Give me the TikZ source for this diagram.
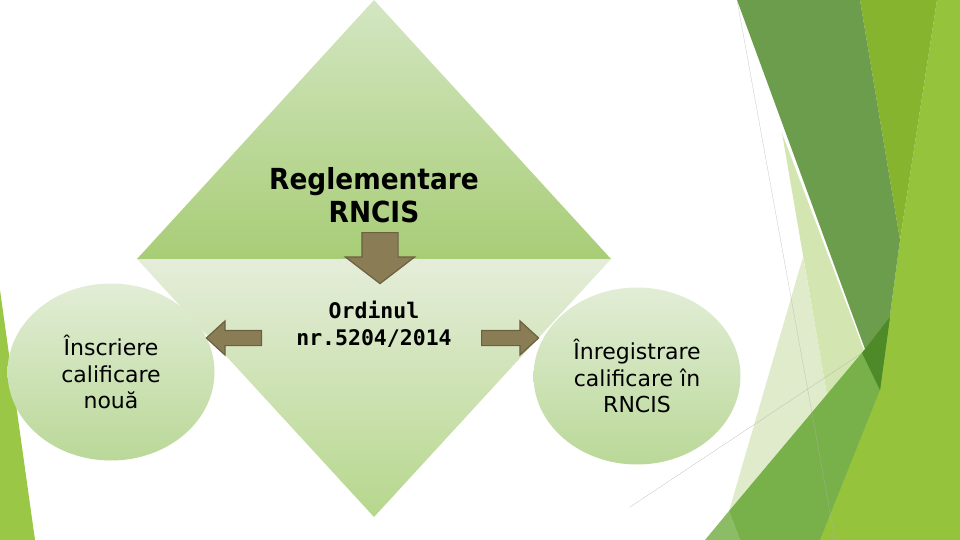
\documentclass[tikz,border=0pt]{standalone}
\usepackage{fontspec}
\newfontfamily\tahoma{DejaVu Sans}
\newfontfamily\tahomabold[FakeStretch=0.91]{DejaVu Sans Bold}
\newfontfamily\tahomamono{DejaVu Sans Mono}
\usetikzlibrary{shapes.geometric,shapes.arrows}

\definecolor{triTop}{HTML}{D3E6C2}
\definecolor{triBot}{HTML}{A8CD76}
\definecolor{diaTop}{HTML}{E5EDDA}
\definecolor{diaBot}{HTML}{B6D78C}
\definecolor{ellTop}{HTML}{E2EDD6}
\definecolor{ellBot}{HTML}{BAD898}
\definecolor{arrFill}{HTML}{8A7D55}
\definecolor{arrLine}{HTML}{6B6141}
\definecolor{leafDark}{HTML}{6C9D4C}
\definecolor{leafDeep}{HTML}{4E8A28}
\definecolor{leafMid}{HTML}{78B04A}
\definecolor{leafLime}{HTML}{95C43C}
\definecolor{leafOlive}{HTML}{86B42F}
\definecolor{leafPale}{HTML}{E0EBCB}
\definecolor{leafPaleB}{HTML}{D3E5B0}

\begin{document}
\begin{tikzpicture}[x=1pt,y=-1pt]
\useasboundingbox (0,0) rectangle (960,540);
% backdrop leaves
\fill[leafPale] (803,257) -- (827,395) -- (729,511) -- cycle;
\fill[leafPaleB] (782,133) -- (827,395) -- (865,353) -- cycle;
\fill[leafMid!85!white] (705,540) -- (729,511) -- (740,540) -- cycle;
\fill[leafMid] (740,540) -- (729,511) -- (960,236) -- (960,540) -- cycle;
\fill[leafLime] (937,0) -- (960,0) -- (960,540) -- (820,540) -- (880,390) -- (900,240) -- cycle;
\fill[leafOlive] (860,0) -- (937,0) -- (900,240) -- cycle;
\fill[leafDark] (737,0) -- (860,0) -- (900,240) -- (880,390) -- cycle;
\fill[leafDeep] (862,353) -- (890,317) -- (880,390) -- cycle;
\fill[leafLime!95!white] (0,290) -- (35,540) -- (0,540) -- cycle;
\draw[black!30,very thin] (737,0) -- (835,540);
\draw[black!30,very thin] (630,507) -- (862,353);

% diamond
\coordinate (top) at (374,0);
\coordinate (west) at (137,259);
\coordinate (east) at (611,259);
\coordinate (bottom) at (374,517);
\shade[top color=triTop,bottom color=triBot] (west) -- (top) -- (east) -- cycle;
\shade[top color=diaTop,bottom color=diaBot] (west) -- (east) -- (bottom) -- cycle;

\begin{scope}[every node/.style={ellipse,top color=ellTop,bottom color=ellBot,
    minimum width=207,minimum height=177,align=center,
    font=\tahoma\fontsize{22}{26.5}\selectfont}]
    \node (nou) at (111,372) {Înscriere\\calificare\\nouă};
    \node (inreg) at (637,376) {Înregistrare\\calificare în\\RNCIS};
\end{scope}

\node[align=center,font=\tahomabold\fontsize{29}{33}\selectfont]
    (regl) at (374,195) {Reglementare\\RNCIS};
\node[align=center,font=\tahomamono\bfseries\fontsize{21.5}{27}\selectfont]
    (ord) at (374,324) {Ordinul\\nr.5204/2014};

\begin{scope}[every node/.style={single arrow,draw=arrLine,fill=arrFill,
    line width=1.2pt,single arrow head indent=0pt,anchor=tail}]
    \node[shape border rotate=270,minimum height=51,inner sep=17.5,
        single arrow head extend=16.5,single arrow tip angle=105]
        (jos) at (380,232) {};
    \node[shape border rotate=180,minimum height=55,inner sep=7,
        single arrow head extend=9.5,single arrow tip angle=85]
        (stanga) at (262,338) {};
    \node[minimum height=57,inner sep=7,
        single arrow head extend=9.5,single arrow tip angle=85]
        (dreapta) at (481,338) {};
\end{scope}
\end{tikzpicture}
\end{document}
